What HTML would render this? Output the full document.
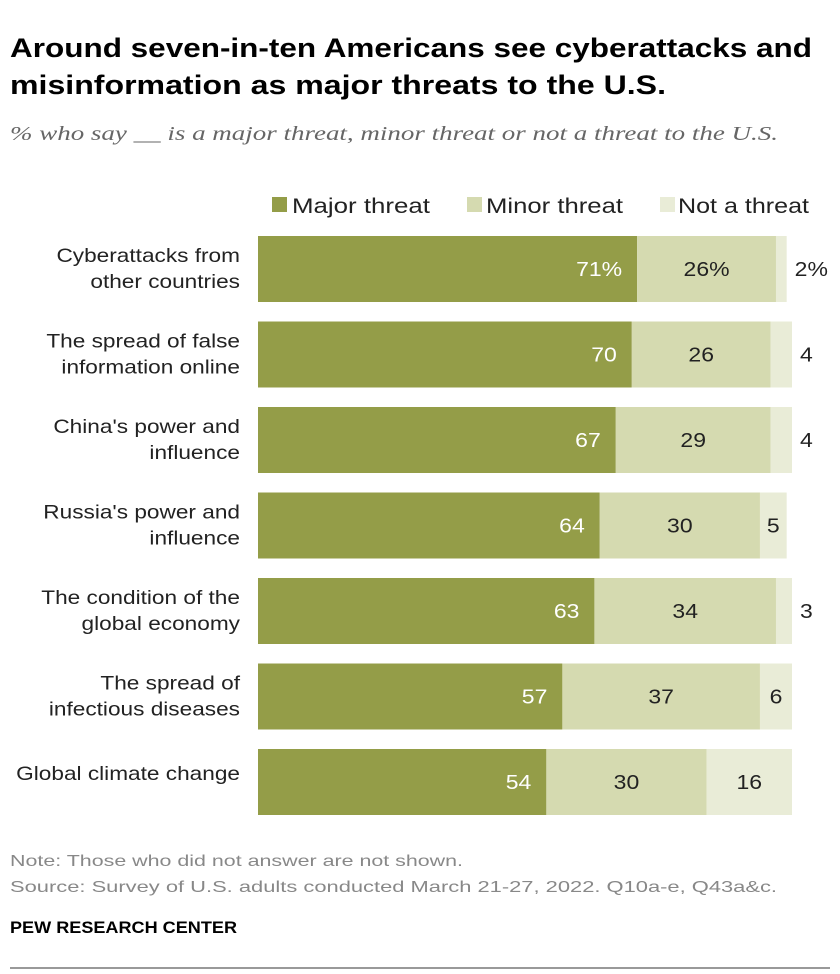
<!DOCTYPE html>
<html><head><meta charset="utf-8">
<style>
body{margin:0;background:#fff;font-family:"Liberation Sans",sans-serif;}
#c{position:relative;width:840px;height:974px;overflow:hidden}
</style></head>
<body>
<div id="c">
<svg width="840" height="974" id="svg" style="position:absolute;left:0;top:0">
<text x="10" y="57" font-size="27" font-weight="bold" fill="#000" textLength="802" lengthAdjust="spacingAndGlyphs">Around seven-in-ten Americans see cyberattacks and</text>
<text x="10" y="94" font-size="27" font-weight="bold" fill="#000" textLength="656" lengthAdjust="spacingAndGlyphs">misinformation as major threats to the U.S.</text>
<text x="10" y="140" font-size="20" font-style="italic" font-family="Liberation Serif, serif" fill="#666" textLength="768" lengthAdjust="spacingAndGlyphs">% who say __ is a major threat, minor threat or not a threat to the U.S.</text>
<g>
<rect x="272" y="197" width="15" height="15" fill="#949d48"/>
<text x="292" y="213" font-size="21" fill="#222" textLength="138" lengthAdjust="spacingAndGlyphs">Major threat</text>
<rect x="467" y="197" width="15" height="15" fill="#d5dab0"/>
<text x="486" y="213" font-size="21" fill="#222" textLength="137" lengthAdjust="spacingAndGlyphs">Minor threat</text>
<rect x="660" y="197" width="15" height="15" fill="#e9ecd7"/>
<text x="678" y="213" font-size="21" fill="#222" textLength="131" lengthAdjust="spacingAndGlyphs">Not a threat</text>
</g>
<g id="bars"></g>
<text x="10" y="866" font-size="16" fill="#888" textLength="453" lengthAdjust="spacingAndGlyphs">Note: Those who did not answer are not shown.</text>
<text x="10" y="892" font-size="16" fill="#888" textLength="767" lengthAdjust="spacingAndGlyphs">Source: Survey of U.S. adults conducted March 21-27, 2022. Q10a-e, Q43a&amp;c.</text>
<text x="10" y="933" font-size="17" font-weight="bold" fill="#000" textLength="227" lengthAdjust="spacingAndGlyphs">PEW RESEARCH CENTER</text>
<line x1="10" y1="968" x2="830" y2="968" stroke="#333" stroke-width="1"/>
</svg>
</div>
<script>
const categories=[["Cyberattacks from","other countries"],["The spread of false","information online"],["China's power and","influence"],["Russia's power and","influence"],["The condition of the","global economy"],["The spread of","infectious diseases"],["Global climate change"]];
const major=[71,70,67,64,63,57,54];
const minor=[26,26,29,30,34,37,30];
const notThreat=[2,4,4,5,3,6,16];
const x0=258, unit=5.34, y0=236, pitch=85.5, bh=66;
const xs=v=>x0+v*unit;
const ns="http://www.w3.org/2000/svg";
const g=document.getElementById('bars');
function mk(tag,attrs){const e=document.createElementNS(ns,tag);for(const k in attrs)e.setAttribute(k,attrs[k]);g.appendChild(e);return e;}
function widen(e,f){const w=e.getComputedTextLength();e.setAttribute('textLength',w*f);e.setAttribute('lengthAdjust','spacingAndGlyphs');}
categories.forEach((cat,i)=>{
  const y=y0+i*pitch;
  const pct=i===0?"%":"";
  let l;
  if(cat.length===1){l=mk('text',{x:240,y:y+31,'font-size':19.5,'text-anchor':'end',fill:'#222'});l.textContent=cat[0];widen(l,1.16);}
  else{
    l=mk('text',{x:240,y:y+26,'font-size':19.5,'text-anchor':'end',fill:'#222'});l.textContent=cat[0];widen(l,1.16);
    const l2=mk('text',{x:240,y:y+52,'font-size':19.5,'text-anchor':'end',fill:'#222'});l2.textContent=cat[1];widen(l2,1.16);
    
    
  }
  
  
  const a=xs(0),b=xs(major[i]),c=xs(major[i]+minor[i]),d=xs(major[i]+minor[i]+notThreat[i]);
  const r1=mk('rect',{x:a,y:y,width:b-a,height:bh,fill:'#949d48'});
  
  
  const r2=mk('rect',{x:b,y:y,width:c-b,height:bh,fill:'#d5dab0'});
  
  
  const r3=mk('rect',{x:c,y:y,width:d-c,height:bh,fill:'#e9ecd7'});
  
  
  const t1=mk('text',{x:b-15,y:y+40,'font-size':20,'text-anchor':'end',fill:'#fff'});t1.textContent=major[i]+pct;widen(t1,1.15);
  
  
  const t2=mk('text',{x:(b+c)/2,y:y+40,'font-size':20,'text-anchor':'middle',fill:'#222'});t2.textContent=minor[i]+pct;widen(t2,1.15);
  
  
  let t3;
  if(notThreat[i]>=5){t3=mk('text',{x:(c+d)/2,y:y+40,'font-size':20,'text-anchor':'middle',fill:'#222'});}
  else{t3=mk('text',{x:d+8,y:y+40,'font-size':20,'text-anchor':'start',fill:'#222'});}
  t3.textContent=notThreat[i]+pct;widen(t3,1.15);
  
  
});
</script>
</body></html>
